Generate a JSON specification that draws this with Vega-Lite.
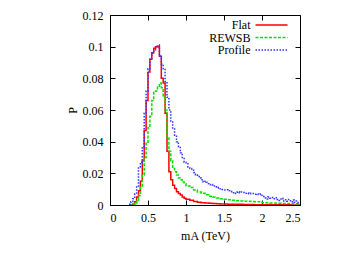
{
  "$schema": "https://vega.github.io/schema/vega-lite/v6.json",
  "width": 190,
  "height": 190,
  "autosize": {"type": "none"},
  "padding": {"left": 110, "top": 15, "right": 62, "bottom": 49},
  "background": "white",
  "config": {
    "view": {"stroke": "black", "strokeWidth": 1},
    "font": "Liberation Serif",
    "axis": {
      "domain": false,
      "grid": false,
      "tickSize": -5,
      "tickColor": "black",
      "labelFont": "Liberation Serif",
      "labelFontSize": 12,
      "labelColor": "black",
      "labelPadding": 12,
      "labelExpr": "'' + datum.value",
      "titleFont": "Liberation Serif",
      "titleFontSize": 12,
      "titleFontWeight": "normal",
      "titleColor": "black"
    },
    "legend": {
      "orient": "none",
      "legendX": 155.5,
      "legendY": 4,
      "symbolType": "M-4,0H4",
      "symbolSize": 64,
      "symbolStrokeWidth": 1.5,
      "labelAlign": "right",
      "labelOffset": -27,
      "rowPadding": 0.5,
      "labelFont": "Liberation Serif",
      "labelFontSize": 12,
      "labelColor": "black"
    }
  },
  "data": {"values": [
    {"s":"Flat","x":0.25,"p":0},{"s":"Flat","x":0.275,"p":0},{"s":"Flat","x":0.3,"p":0.0005},{"s":"Flat","x":0.325,"p":0.002},{"s":"Flat","x":0.35,"p":0.005},{"s":"Flat","x":0.375,"p":0.009},{"s":"Flat","x":0.4,"p":0.015},{"s":"Flat","x":0.425,"p":0.028},{"s":"Flat","x":0.45,"p":0.047},{"s":"Flat","x":0.475,"p":0.066},{"s":"Flat","x":0.5,"p":0.084},{"s":"Flat","x":0.525,"p":0.092},{"s":"Flat","x":0.55,"p":0.096},{"s":"Flat","x":0.575,"p":0.099},{"s":"Flat","x":0.6,"p":0.1},{"s":"Flat","x":0.625,"p":0.1},{"s":"Flat","x":0.65,"p":0.094},{"s":"Flat","x":0.675,"p":0.08},{"s":"Flat","x":0.7,"p":0.077},{"s":"Flat","x":0.725,"p":0.058},{"s":"Flat","x":0.75,"p":0.034},{"s":"Flat","x":0.775,"p":0.021},{"s":"Flat","x":0.8,"p":0.016},{"s":"Flat","x":0.825,"p":0.0125},{"s":"Flat","x":0.85,"p":0.0105},{"s":"Flat","x":0.875,"p":0.0084},{"s":"Flat","x":0.9,"p":0.0072},{"s":"Flat","x":0.925,"p":0.0063},{"s":"Flat","x":0.95,"p":0.005},{"s":"Flat","x":0.975,"p":0.0042},{"s":"Flat","x":1.0,"p":0.0036},{"s":"Flat","x":1.05,"p":0.003},{"s":"Flat","x":1.1,"p":0.0022},{"s":"Flat","x":1.15,"p":0.0018},{"s":"Flat","x":1.2,"p":0.0015},{"s":"Flat","x":1.25,"p":0.0013},{"s":"Flat","x":1.3,"p":0.0011},{"s":"Flat","x":1.35,"p":0.001},{"s":"Flat","x":1.4,"p":0.0008},{"s":"Flat","x":1.45,"p":0.0007},{"s":"Flat","x":1.5,"p":0.0006},{"s":"Flat","x":1.55,"p":0.0005},{"s":"Flat","x":1.6,"p":0.0005},{"s":"Flat","x":1.65,"p":0.0004},{"s":"Flat","x":1.7,"p":0.0004},{"s":"Flat","x":1.75,"p":0.0003},{"s":"Flat","x":1.8,"p":0.0003},{"s":"Flat","x":1.85,"p":0.0003},{"s":"Flat","x":1.9,"p":0.0002},{"s":"Flat","x":1.95,"p":0.0002},{"s":"Flat","x":2.0,"p":0.0002},{"s":"Flat","x":2.05,"p":0.0002},{"s":"Flat","x":2.1,"p":0.0001},{"s":"Flat","x":2.15,"p":0.0001},{"s":"Flat","x":2.2,"p":0.0001},{"s":"Flat","x":2.25,"p":0.0001},{"s":"Flat","x":2.3,"p":0.0001},{"s":"Flat","x":2.35,"p":0.0001},{"s":"Flat","x":2.4,"p":0},{"s":"Flat","x":2.45,"p":0},{"s":"Flat","x":2.5,"p":0},
    {"s":"REWSB","x":0.25,"p":0},{"s":"REWSB","x":0.275,"p":0},{"s":"REWSB","x":0.3,"p":0.0005},{"s":"REWSB","x":0.325,"p":0.001},{"s":"REWSB","x":0.35,"p":0.003},{"s":"REWSB","x":0.375,"p":0.006},{"s":"REWSB","x":0.4,"p":0.012},{"s":"REWSB","x":0.425,"p":0.019},{"s":"REWSB","x":0.45,"p":0.03},{"s":"REWSB","x":0.475,"p":0.039},{"s":"REWSB","x":0.5,"p":0.049},{"s":"REWSB","x":0.525,"p":0.056},{"s":"REWSB","x":0.55,"p":0.066},{"s":"REWSB","x":0.575,"p":0.071},{"s":"REWSB","x":0.6,"p":0.072},{"s":"REWSB","x":0.625,"p":0.075},{"s":"REWSB","x":0.65,"p":0.077},{"s":"REWSB","x":0.675,"p":0.074},{"s":"REWSB","x":0.7,"p":0.068},{"s":"REWSB","x":0.725,"p":0.06},{"s":"REWSB","x":0.75,"p":0.043},{"s":"REWSB","x":0.775,"p":0.034},{"s":"REWSB","x":0.8,"p":0.028},{"s":"REWSB","x":0.825,"p":0.023},{"s":"REWSB","x":0.85,"p":0.021},{"s":"REWSB","x":0.875,"p":0.019},{"s":"REWSB","x":0.9,"p":0.017},{"s":"REWSB","x":0.925,"p":0.016},{"s":"REWSB","x":0.95,"p":0.0145},{"s":"REWSB","x":0.975,"p":0.0135},{"s":"REWSB","x":1.0,"p":0.012},{"s":"REWSB","x":1.05,"p":0.011},{"s":"REWSB","x":1.1,"p":0.0095},{"s":"REWSB","x":1.15,"p":0.0082},{"s":"REWSB","x":1.2,"p":0.0074},{"s":"REWSB","x":1.25,"p":0.0065},{"s":"REWSB","x":1.3,"p":0.0056},{"s":"REWSB","x":1.35,"p":0.005},{"s":"REWSB","x":1.4,"p":0.0045},{"s":"REWSB","x":1.45,"p":0.004},{"s":"REWSB","x":1.5,"p":0.0036},{"s":"REWSB","x":1.55,"p":0.0033},{"s":"REWSB","x":1.6,"p":0.003},{"s":"REWSB","x":1.65,"p":0.0027},{"s":"REWSB","x":1.7,"p":0.0026},{"s":"REWSB","x":1.75,"p":0.0024},{"s":"REWSB","x":1.8,"p":0.0023},{"s":"REWSB","x":1.85,"p":0.0022},{"s":"REWSB","x":1.9,"p":0.0021},{"s":"REWSB","x":1.95,"p":0.002},{"s":"REWSB","x":2.0,"p":0.0015},{"s":"REWSB","x":2.05,"p":0.0014},{"s":"REWSB","x":2.1,"p":0.0012},{"s":"REWSB","x":2.15,"p":0.0012},{"s":"REWSB","x":2.2,"p":0.0011},{"s":"REWSB","x":2.25,"p":0.001},{"s":"REWSB","x":2.3,"p":0.001},{"s":"REWSB","x":2.35,"p":0.0009},{"s":"REWSB","x":2.4,"p":0.0008},{"s":"REWSB","x":2.45,"p":0.0008},{"s":"REWSB","x":2.5,"p":0.0008},
    {"s":"Profile","x":0.25,"p":0.0005},{"s":"Profile","x":0.275,"p":0.002},{"s":"Profile","x":0.3,"p":0.004},{"s":"Profile","x":0.325,"p":0.007},{"s":"Profile","x":0.35,"p":0.012},{"s":"Profile","x":0.375,"p":0.024},{"s":"Profile","x":0.4,"p":0.027},{"s":"Profile","x":0.425,"p":0.036},{"s":"Profile","x":0.45,"p":0.058},{"s":"Profile","x":0.475,"p":0.072},{"s":"Profile","x":0.5,"p":0.086},{"s":"Profile","x":0.525,"p":0.092},{"s":"Profile","x":0.55,"p":0.096},{"s":"Profile","x":0.575,"p":0.098},{"s":"Profile","x":0.6,"p":0.1},{"s":"Profile","x":0.625,"p":0.101},{"s":"Profile","x":0.65,"p":0.094},{"s":"Profile","x":0.675,"p":0.089},{"s":"Profile","x":0.7,"p":0.086},{"s":"Profile","x":0.725,"p":0.078},{"s":"Profile","x":0.75,"p":0.068},{"s":"Profile","x":0.775,"p":0.06},{"s":"Profile","x":0.8,"p":0.053},{"s":"Profile","x":0.825,"p":0.048},{"s":"Profile","x":0.85,"p":0.044},{"s":"Profile","x":0.875,"p":0.04},{"s":"Profile","x":0.9,"p":0.037},{"s":"Profile","x":0.925,"p":0.033},{"s":"Profile","x":0.95,"p":0.03},{"s":"Profile","x":0.975,"p":0.027},{"s":"Profile","x":1.0,"p":0.026},{"s":"Profile","x":1.025,"p":0.024},{"s":"Profile","x":1.05,"p":0.023},{"s":"Profile","x":1.075,"p":0.022},{"s":"Profile","x":1.1,"p":0.0205},{"s":"Profile","x":1.125,"p":0.019},{"s":"Profile","x":1.15,"p":0.018},{"s":"Profile","x":1.175,"p":0.017},{"s":"Profile","x":1.2,"p":0.016},{"s":"Profile","x":1.225,"p":0.0145},{"s":"Profile","x":1.25,"p":0.015},{"s":"Profile","x":1.275,"p":0.0135},{"s":"Profile","x":1.3,"p":0.0128},{"s":"Profile","x":1.325,"p":0.013},{"s":"Profile","x":1.35,"p":0.012},{"s":"Profile","x":1.375,"p":0.0115},{"s":"Profile","x":1.4,"p":0.0108},{"s":"Profile","x":1.425,"p":0.011},{"s":"Profile","x":1.45,"p":0.0102},{"s":"Profile","x":1.475,"p":0.0098},{"s":"Profile","x":1.5,"p":0.0095},{"s":"Profile","x":1.525,"p":0.0097},{"s":"Profile","x":1.55,"p":0.009},{"s":"Profile","x":1.575,"p":0.0085},{"s":"Profile","x":1.6,"p":0.0078},{"s":"Profile","x":1.625,"p":0.0072},{"s":"Profile","x":1.65,"p":0.008},{"s":"Profile","x":1.675,"p":0.0083},{"s":"Profile","x":1.7,"p":0.0078},{"s":"Profile","x":1.725,"p":0.0082},{"s":"Profile","x":1.75,"p":0.0079},{"s":"Profile","x":1.775,"p":0.0074},{"s":"Profile","x":1.8,"p":0.0076},{"s":"Profile","x":1.825,"p":0.0071},{"s":"Profile","x":1.85,"p":0.0074},{"s":"Profile","x":1.875,"p":0.0072},{"s":"Profile","x":1.9,"p":0.0068},{"s":"Profile","x":1.925,"p":0.007},{"s":"Profile","x":1.95,"p":0.0066},{"s":"Profile","x":1.975,"p":0.0069},{"s":"Profile","x":2.0,"p":0.0053},{"s":"Profile","x":2.025,"p":0.0045},{"s":"Profile","x":2.05,"p":0.0038},{"s":"Profile","x":2.075,"p":0.005},{"s":"Profile","x":2.1,"p":0.0043},{"s":"Profile","x":2.125,"p":0.0048},{"s":"Profile","x":2.15,"p":0.004},{"s":"Profile","x":2.175,"p":0.0046},{"s":"Profile","x":2.2,"p":0.0035},{"s":"Profile","x":2.225,"p":0.0028},{"s":"Profile","x":2.25,"p":0.0042},{"s":"Profile","x":2.275,"p":0.0026},{"s":"Profile","x":2.3,"p":0.0033},{"s":"Profile","x":2.325,"p":0.0024},{"s":"Profile","x":2.35,"p":0.0034},{"s":"Profile","x":2.375,"p":0.002},{"s":"Profile","x":2.4,"p":0.0031},{"s":"Profile","x":2.425,"p":0.0018},{"s":"Profile","x":2.45,"p":0.0025},{"s":"Profile","x":2.475,"p":0.0015},{"s":"Profile","x":2.5,"p":0.0015}
  ]},
  "layer": [
    {
      "mark": {"type": "line", "interpolate": "step-after", "strokeWidth": 1.5, "clip": true},
      "encoding": {
        "x": {"field": "x", "type": "quantitative", "scale": {"domain": [0, 2.5], "nice": false},
              "axis": {"orient": "bottom", "values": [0, 0.5, 1, 1.5, 2, 2.5], "title": "mA (TeV)", "titlePadding": 7}},
        "y": {"field": "p", "type": "quantitative", "scale": {"domain": [0, 0.12], "nice": false},
              "axis": {"orient": "left", "values": [0, 0.02, 0.04, 0.06, 0.08, 0.1, 0.12], "title": "P", "titlePadding": 3}},
        "color": {"field": "s", "type": "nominal", "title": null,
                  "scale": {"domain": ["Flat", "REWSB", "Profile"], "range": ["#ff0000", "#00e000", "#3333ff"]}},
        "strokeDash": {"field": "s", "type": "nominal", "title": null,
                  "scale": {"domain": ["Flat", "REWSB", "Profile"], "range": [[1, 0], [3, 1.5], [1.5, 1.5]]}}
      }
    },
    {
      "mark": {"type": "point", "opacity": 0},
      "encoding": {
        "x": {"datum": 0, "type": "quantitative",
              "axis": {"orient": "top", "values": [0, 0.5, 1, 1.5, 2, 2.5], "labels": false, "title": null}},
        "y": {"datum": 0, "type": "quantitative",
              "axis": {"orient": "right", "values": [0, 0.02, 0.04, 0.06, 0.08, 0.1, 0.12], "labels": false, "title": null}}
      }
    }
  ],
  "resolve": {"axis": {"x": "independent", "y": "independent"}}
}
